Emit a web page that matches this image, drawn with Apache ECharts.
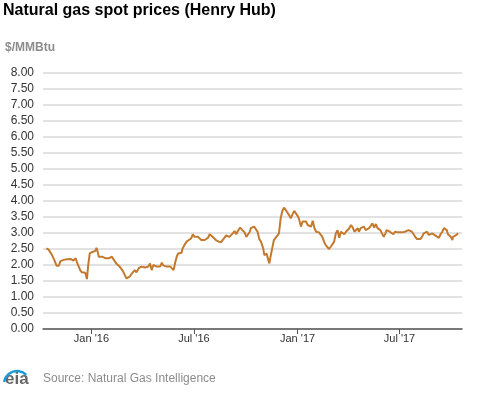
<!DOCTYPE html>
<html>
<head>
<meta charset="utf-8">
<script src="https://cdn.jsdelivr.net/npm/echarts@6/dist/echarts.min.js"></script>
<style>
html,body{margin:0;padding:0;background:#fff;}
#chart{width:477px;height:393px;}
</style>
</head>
<body>
<div id="chart"></div>
<script>
const titleText = "Natural gas spot prices (Henry Hub)";
const unitText = "$/MMBtu";
const sourceText = "Source: Natural Gas Intelligence";

const dates = [
"2015-10-13","2015-10-17","2015-10-20","2015-10-23","2015-10-27","2015-10-31","2015-11-04","2015-11-07","2015-11-10","2015-11-13",
"2015-11-16","2015-11-19","2015-11-22","2015-11-25","2015-11-30","2015-12-04","2015-12-06","2015-12-09","2015-12-12","2015-12-15",
"2015-12-18","2015-12-21","2015-12-24","2015-12-26","2015-12-29","2016-01-02","2016-01-05","2016-01-08","2016-01-10","2016-01-12",
"2016-01-14","2016-01-20","2016-01-26","2016-02-01","2016-02-04","2016-02-06","2016-02-09","2016-02-14","2016-02-20","2016-02-26",
"2016-03-03","2016-03-06","2016-03-09","2016-03-13","2016-03-18","2016-03-21","2016-03-25","2016-03-30","2016-04-02","2016-04-05",
"2016-04-08","2016-04-11","2016-04-14","2016-04-17","2016-04-20","2016-04-23","2016-04-26","2016-04-29","2016-05-02","2016-05-05",
"2016-05-08","2016-05-11","2016-05-14","2016-05-17","2016-05-20","2016-05-23","2016-05-26","2016-05-29","2016-06-01","2016-06-03",
"2016-06-06","2016-06-09","2016-06-11","2016-06-14","2016-06-18","2016-06-22","2016-06-26","2016-06-29","2016-07-02","2016-07-05",
"2016-07-08","2016-07-11","2016-07-14","2016-07-17","2016-07-20","2016-07-23","2016-07-26","2016-07-29","2016-08-01","2016-08-03",
"2016-08-06","2016-08-09","2016-08-14","2016-08-18","2016-08-21","2016-08-24","2016-08-27","2016-08-30","2016-09-02","2016-09-05",
"2016-09-08","2016-09-11","2016-09-14","2016-09-17","2016-09-21","2016-09-25","2016-09-29","2016-10-02","2016-10-05","2016-10-08",
"2016-10-10","2016-10-13","2016-10-16","2016-10-19","2016-10-22","2016-10-25","2016-10-28","2016-10-31","2016-11-01","2016-11-03",
"2016-11-05","2016-11-07","2016-11-10","2016-11-12","2016-11-14","2016-11-17","2016-11-20","2016-11-23","2016-11-26","2016-11-29",
"2016-12-02","2016-12-05","2016-12-08","2016-12-11","2016-12-14","2016-12-17","2016-12-20","2016-12-23","2016-12-26","2016-12-29",
"2017-01-02","2017-01-04","2017-01-07","2017-01-10","2017-01-13","2017-01-16","2017-01-19","2017-01-22","2017-01-25","2017-01-28",
"2017-01-31","2017-02-03","2017-02-06","2017-02-08","2017-02-11","2017-02-14","2017-02-17","2017-02-20","2017-02-23","2017-02-26",
"2017-03-01","2017-03-04","2017-03-07","2017-03-10","2017-03-13","2017-03-16","2017-03-19","2017-03-22","2017-03-25","2017-03-28",
"2017-03-31","2017-04-03","2017-04-06","2017-04-09","2017-04-12","2017-04-15","2017-04-18","2017-04-20","2017-04-23","2017-04-26",
"2017-04-29","2017-05-02","2017-05-05","2017-05-08","2017-05-11","2017-05-14","2017-05-17","2017-05-20","2017-05-23","2017-05-25",
"2017-05-28","2017-05-31","2017-06-03","2017-06-06","2017-06-08","2017-06-11","2017-06-14","2017-06-17","2017-06-20","2017-06-23",
"2017-06-26","2017-06-29","2017-07-02","2017-07-05","2017-07-08","2017-07-11","2017-07-14","2017-07-17","2017-07-20","2017-07-23",
"2017-07-26","2017-07-29","2017-08-01","2017-08-04","2017-08-07","2017-08-10","2017-08-13","2017-08-16","2017-08-19","2017-08-22",
"2017-08-25","2017-08-28","2017-08-31","2017-09-03","2017-09-06","2017-09-09","2017-09-12","2017-09-15","2017-09-18","2017-09-20",
"2017-09-23","2017-09-25","2017-09-28","2017-09-30","2017-10-03","2017-10-04","2017-10-07","2017-10-10","2017-10-13"
];

const prices = [
2.52,2.48,2.50,2.31,2.16,1.98,1.98,2.12,2.10,2.16,
2.10,2.18,2.16,2.19,2.14,2.21,2.10,2.05,1.84,1.77,
1.74,1.76,1.56,1.95,2.36,2.40,2.42,2.44,2.54,2.42,
2.26,2.26,2.21,2.21,2.16,2.26,2.21,2.05,1.95,1.81,
1.58,1.53,1.64,1.74,1.84,1.77,1.90,1.95,1.98,1.92,
1.98,1.95,2.05,1.84,2.00,2.00,1.95,2.00,1.95,2.07,
1.98,2.02,1.95,2.00,1.95,1.90,1.84,2.10,2.29,2.36,
2.36,2.38,2.52,2.62,2.73,2.78,2.83,2.96,2.88,2.85,
2.88,2.83,2.78,2.83,2.78,2.83,2.85,2.96,2.92,2.88,
2.83,2.78,2.73,2.71,2.73,2.85,2.92,2.96,2.88,2.88,
2.99,3.06,2.96,3.06,3.17,3.09,3.02,2.88,2.94,3.03,
3.15,3.20,3.20,3.25,3.04,2.81,2.73,2.78,2.52,2.31,
2.26,2.36,2.16,2.05,2.26,2.52,2.78,2.85,2.83,2.99,
3.46,3.69,3.79,3.72,3.67,3.56,3.46,3.58,3.69,3.72,
3.51,3.41,3.20,3.36,3.41,3.36,3.25,3.30,3.20,3.38,
3.15,3.04,3.02,3.02,2.99,2.88,2.73,2.62,2.57,2.50,
2.57,2.62,2.73,2.99,3.09,2.85,3.04,2.99,2.96,3.04,
3.09,3.15,3.25,3.17,3.04,3.09,3.15,3.04,3.15,3.17,
3.20,3.09,3.04,3.15,3.20,3.30,3.17,3.28,3.15,3.20,
3.09,3.04,2.88,2.99,3.09,3.15,3.04,2.99,2.96,3.04,
3.06,3.02,2.96,3.02,2.99,3.04,3.02,3.09,3.15,3.04,
2.96,2.88,2.81,2.80,2.81,2.88,2.99,2.96,3.04,2.94,
2.96,2.99,2.94,2.92,2.88,2.85,2.96,3.04,3.15,3.20,
3.09,2.96,2.96,2.88,2.78,2.88,2.94,2.94,2.99
];

const tickDates = ["2016-01-01","2016-07-01","2017-01-01","2017-07-01"];
const tickLabels = ["Jan '16","Jul '16","Jan '17","Jul '17"];
const axisStart = "2015-10-07";
const axisEnd = "2017-10-20";

const chart = echarts.init(document.getElementById('chart'), null, {renderer: 'canvas'});
const toTime = d => +echarts.time.parse(d);
const tickTimes = tickDates.map(toTime);
const seriesData = dates.map((d, i) => [toTime(d), prices[i]]);
const font = "'Liberation Sans', Arial, sans-serif";

chart.setOption({
  animation: false,
  backgroundColor: '#ffffff',
  title: {
    text: titleText,
    left: 3, top: 3, padding: 0,
    textStyle: {fontFamily: font, fontSize: 16, fontWeight: 'bold', color: '#000'}
  },
  grid: {left: 43, right: 15, top: 73, bottom: 64, containLabel: false},
  xAxis: {
    type: 'value',
    min: toTime(axisStart),
    max: toTime(axisEnd),
    axisLine: {show: true, onZero: false, lineStyle: {color: '#555', width: 1.5}},
    axisTick: {show: true, customValues: tickTimes, length: 5, lineStyle: {color: '#555', width: 1}},
    axisLabel: {
      customValues: tickTimes,
      fontFamily: font, fontSize: 11, color: '#333', margin: 4,
      formatter: function (v) {
        const i = tickTimes.indexOf(+v);
        return i >= 0 ? tickLabels[i] : '';
      }
    },
    splitLine: {show: false}
  },
  yAxis: {
    type: 'value',
    min: 0, max: 8, interval: 0.5,
    axisLine: {show: false},
    axisTick: {show: false},
    axisLabel: {fontFamily: font, fontSize: 12, color: '#333', margin: 9,
      formatter: v => v.toFixed(2)},
    splitLine: {show: true, lineStyle: {color: '#d9d9d9', width: 1.5}}
  },
  series: [{
    type: 'line',
    data: seriesData,
    showSymbol: false,
    symbol: 'none',
    lineStyle: {color: '#c47a2e', width: 2},
    z: 3
  }],
  graphic: [
    {type: 'text', left: 5, top: 42,
      style: {text: unitText, font: "bold 12px 'Liberation Sans', Arial, sans-serif", fill: '#8c8c8c'}},
    {type: 'text', left: 43, top: 373,
      style: {text: sourceText, font: "12px 'Liberation Sans', Arial, sans-serif", fill: '#8c8c8c'}},
    {type: 'text', left: 5, top: 371,
      style: {text: 'eia', font: "bold 17px 'Liberation Sans', Arial, sans-serif", fill: '#666'}},
    {type: 'arc', shape: {cx: 17, cy: 384, r: 13, startAngle: -Math.PI * 0.95, endAngle: -Math.PI * 0.25},
      style: {stroke: '#1a9ad6', lineWidth: 2.5, fill: null}}
  ]
});
</script>
</body>
</html>
